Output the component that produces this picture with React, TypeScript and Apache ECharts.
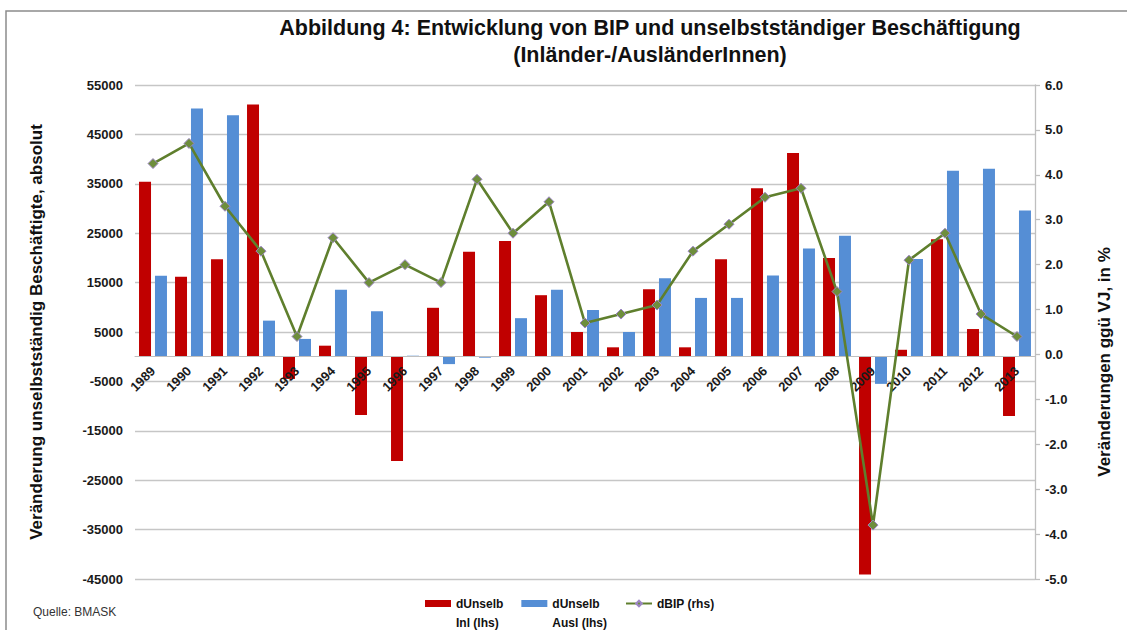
import React, { useEffect, useRef } from "react";
import * as echarts from "echarts";

const years = ["1989","1990","1991","1992","1993","1994","1995","1996","1997","1998","1999","2000","2001","2002","2003","2004","2005","2006","2007","2008","2009","2010","2011","2012","2013"];
const inlValues = [35400,16200,19750,51050,-4500,2230,-11800,-21100,9900,21250,23400,12450,5000,1900,13650,1900,19750,34100,41250,20000,-44100,1400,23800,5600,-12000];
const auslValues = [16400,50250,48900,7300,3600,13550,9200,200,-1500,-200,7800,13550,9450,5000,15900,11900,11900,16450,21900,24500,-5500,19800,37650,38050,29600];
const bipValues = [4.25,4.7,3.3,2.3,0.4,2.6,1.6,2.0,1.6,3.9,2.7,3.4,0.7,0.9,1.1,2.3,2.9,3.5,3.7,1.4,-3.8,2.1,2.7,0.9,0.4];

const titleLine1 = "Abbildung 4: Entwicklung von BIP und unselbstständiger Beschäftigung";
const titleLine2 = "(Inländer-/AusländerInnen)";
const leftAxisTitle = "Veränderung unselbstständig Beschäftigte, absolut";
const rightAxisTitle = "Veränderungen ggü VJ, in %";
const sourceText = "Quelle: BMASK";
const nameInl = "dUnselb\nInl (lhs)";
const nameAusl = "dUnselb\nAusl (lhs)";
const nameBip = "dBIP (rhs)";

const FONT = "'Liberation Sans', Arial, sans-serif";

export default function App() {
  const ref = useRef<HTMLDivElement>(null);
  useEffect(() => {
    document.body.style.margin = "0";
    const chart = echarts.init(ref.current!, null, { renderer: "svg" });
    const axisLabelStyle = { fontFamily: FONT, fontSize: 13, fontWeight: "bold" as const, color: "#1a1a1a" };
    const gridTop = 85;
    const gridBottom = 51;
    const gridHeight = 630 - gridTop - gridBottom;
    const leftMin = -45000;
    const leftMax = 55000;
    const zeroOffset = -(gridHeight * (0 - leftMin)) / (leftMax - leftMin);
    chart.setOption({
      animation: false,
      backgroundColor: "#ffffff",
      textStyle: { fontFamily: FONT },
      title: [
        { text: titleLine1, left: 645, top: 12, textAlign: "center", textStyle: { fontFamily: FONT, fontSize: 21.5, fontWeight: "bold", color: "#111" } },
        { text: titleLine2, left: 645, top: 39, textAlign: "center", textStyle: { fontFamily: FONT, fontSize: 21.5, fontWeight: "bold", color: "#111" } },
      ],
      grid: { left: 135, right: 92, top: gridTop, bottom: gridBottom, containLabel: false },
      legend: {
        left: 420,
        top: 570,
        itemGap: 18,
        itemWidth: 26,
        itemHeight: 7,
        textStyle: { fontFamily: FONT, fontSize: 12, fontWeight: "bold", color: "#111", lineHeight: 19 },
        formatter: (name: string) => (name.indexOf("\n") >= 0 ? " \n" + name : name),
        data: [
          { name: nameInl, icon: "rect" },
          { name: nameAusl, icon: "rect" },
          { name: nameBip },
        ],
      },
      xAxis: {
        type: "category",
        data: years,
        boundaryGap: true,
        position: "bottom",
        offset: zeroOffset,
        zlevel: 1,
        z: 10,
        axisLine: { onZero: false, lineStyle: { color: "#bfbfbf", width: 1 } },
        axisTick: { show: false },
        axisLabel: { ...axisLabelStyle, fontSize: 13, interval: 0, rotate: 45, margin: 12 },
        splitLine: { show: false },
      },
      yAxis: [
        {
          type: "value",
          min: leftMin,
          max: leftMax,
          interval: 10000,
          axisLine: { show: false },
          axisTick: { show: false },
          axisLabel: { ...axisLabelStyle, margin: 12, formatter: (v: number) => String(v) },
          splitLine: { show: true, lineStyle: { color: "#c6c6c6", width: 1.3 } },
        },
        {
          type: "value",
          position: "right",
          min: -5,
          max: 6,
          interval: 1,
          axisLine: { show: true, onZero: false, lineStyle: { color: "#bfbfbf", width: 1.3 } },
          axisTick: { show: true, inside: false, length: 5, lineStyle: { color: "#bfbfbf", width: 1.3 } },
          axisLabel: { ...axisLabelStyle, margin: 10, formatter: (v: number) => v.toFixed(1) },
          splitLine: { show: false },
        },
      ],
      series: [
        {
          name: nameInl,
          type: "bar",
          yAxisIndex: 0,
          data: inlValues,
          barWidth: 12,
          barGap: "33%",
          itemStyle: { color: "#c00000" },
        },
        {
          name: nameAusl,
          type: "bar",
          yAxisIndex: 0,
          data: auslValues,
          barWidth: 12,
          barGap: "33%",
          itemStyle: { color: "#558ed5" },
        },
        {
          name: nameBip,
          type: "line",
          yAxisIndex: 1,
          data: bipValues,
          zlevel: 1,
          z: 20,
          symbol: "diamond",
          symbolSize: 10,
          lineStyle: { color: "#5f7f2d", width: 2.6 },
          itemStyle: { color: "#6e8e3c", borderColor: "#9d86c6", borderWidth: 1 },
        },
      ],
      graphic: [
        { type: "rect", shape: { x: 6, y: 11, width: 1300, height: 800 }, style: { fill: "none", stroke: "#8c8c8c", lineWidth: 1.5 }, silent: true, z: -10 },
        { type: "text", x: 36, y: 332, rotation: Math.PI / 2, style: { text: leftAxisTitle, fontFamily: FONT, fontSize: 17, fontWeight: "bold", fill: "#111", textAlign: "center", textVerticalAlign: "middle" } },
        { type: "text", x: 1104, y: 362, rotation: Math.PI / 2, style: { text: rightAxisTitle, fontFamily: FONT, fontSize: 17, fontWeight: "bold", fill: "#111", textAlign: "center", textVerticalAlign: "middle" } },
        { type: "text", x: 33, y: 612, style: { text: sourceText, fontFamily: FONT, fontSize: 12, fill: "#333", textAlign: "left", textVerticalAlign: "middle" } },
      ],
    });
    return () => chart.dispose();
  }, []);
  return <div ref={ref} style={{ width: 1127, height: 630 }} />;
}
